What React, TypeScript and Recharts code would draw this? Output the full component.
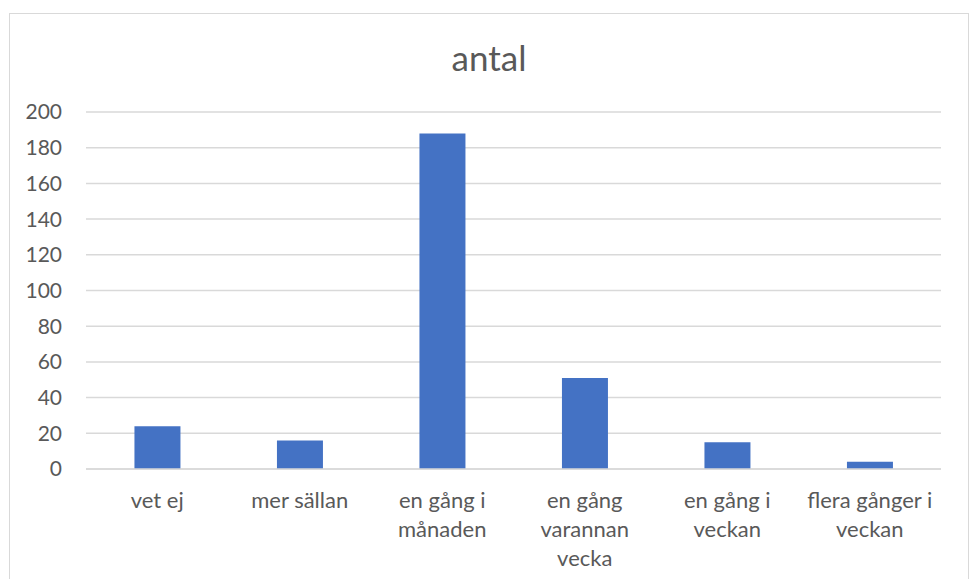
import React from 'react';
import { BarChart, Bar, XAxis, YAxis, CartesianGrid } from 'recharts';

const categories = [
  'vet ej',
  'mer sällan',
  'en gång i månaden',
  'en gång varannan vecka',
  'en gång i veckan',
  'flera gånger i veckan',
];
const antal = [24, 16, 188, 51, 15, 4];
const yTicks = [0, 20, 40, 60, 80, 100, 120, 140, 160, 180, 200];
const chartTitle = 'antal';

const data = categories.map((c, i) => ({ category: c, antal: antal[i] }));

const FONT = 'Lato, "Liberation Sans", sans-serif';
const TEXT = '#595959';
const GRID = '#d9d9d9';
const X_TICK_SIZE = 22;
const Y_TICK_SIZE = 21;

let ctx: CanvasRenderingContext2D | null = null;
function measure(s: string): number {
  if (!ctx) {
    const c = document.createElement('canvas');
    ctx = c.getContext('2d');
  }
  if (!ctx) return s.length * 11;
  ctx.font = `${X_TICK_SIZE}px ${FONT}`;
  return ctx.measureText(s).width;
}

function wrap(label: string, maxW: number): string[] {
  const words = label.split(' ');
  const lines: string[] = [];
  let cur = '';
  for (const w of words) {
    const test = cur ? cur + ' ' + w : w;
    if (cur && measure(test) > maxW) {
      lines.push(cur);
      cur = w;
    } else {
      cur = test;
    }
  }
  if (cur) lines.push(cur);
  return lines;
}

const XTick = (props: any) => {
  const { x, y, payload } = props;
  const lines = wrap(String(payload.value), 134);
  return (
    <text x={x} y={y} textAnchor="middle" fill={TEXT} fontSize={X_TICK_SIZE} fontFamily={FONT}>
      {lines.map((l, i) => (
        <tspan key={i} x={x} dy={i === 0 ? 39 : 29}>
          {l}
        </tspan>
      ))}
    </text>
  );
};

export default function App() {
  return (
    <div style={{ position: 'absolute', left: 0, top: 0, width: 973, height: 579, background: '#fff', overflow: 'hidden' }}>
      <div
        style={{
          position: 'absolute',
          left: 9,
          top: 13,
          width: 960,
          height: 600,
          border: '1px solid #d9d9d9',
          boxSizing: 'border-box',
        }}
      />
      <div
        style={{
          position: 'absolute',
          left: 0,
          width: 978,
          top: 35,
          textAlign: 'center',
          fontFamily: FONT,
          fontSize: 35,
          color: TEXT,
          lineHeight: '44px',
        }}
      >
        {chartTitle}
      </div>
      <div style={{ position: 'absolute', left: 0, top: 0 }}>
        <BarChart
          width={973}
          height={579}
          data={data}
          margin={{ top: 112, right: 32, left: 0, bottom: 0 }}
          barCategoryGap="34%"
        >
          <CartesianGrid vertical={false} stroke={GRID} strokeWidth={1.5} />
          <XAxis
            dataKey="category"
            height={110}
            tickSize={0}
            tickMargin={0}
            axisLine={{ stroke: GRID, strokeWidth: 1.5 }}
            tickLine={false}
            tick={<XTick />}
            interval={0}
          />
          <YAxis
            width={86}
            domain={[0, 200]}
            ticks={yTicks}
            tickSize={0}
            tickMargin={24}
            axisLine={false}
            tickLine={false}
            tick={{ fill: TEXT, fontSize: Y_TICK_SIZE, fontFamily: FONT }}
          />
          <Bar dataKey="antal" fill="#4472C4" isAnimationActive={false} />
        </BarChart>
      </div>
    </div>
  );
}
